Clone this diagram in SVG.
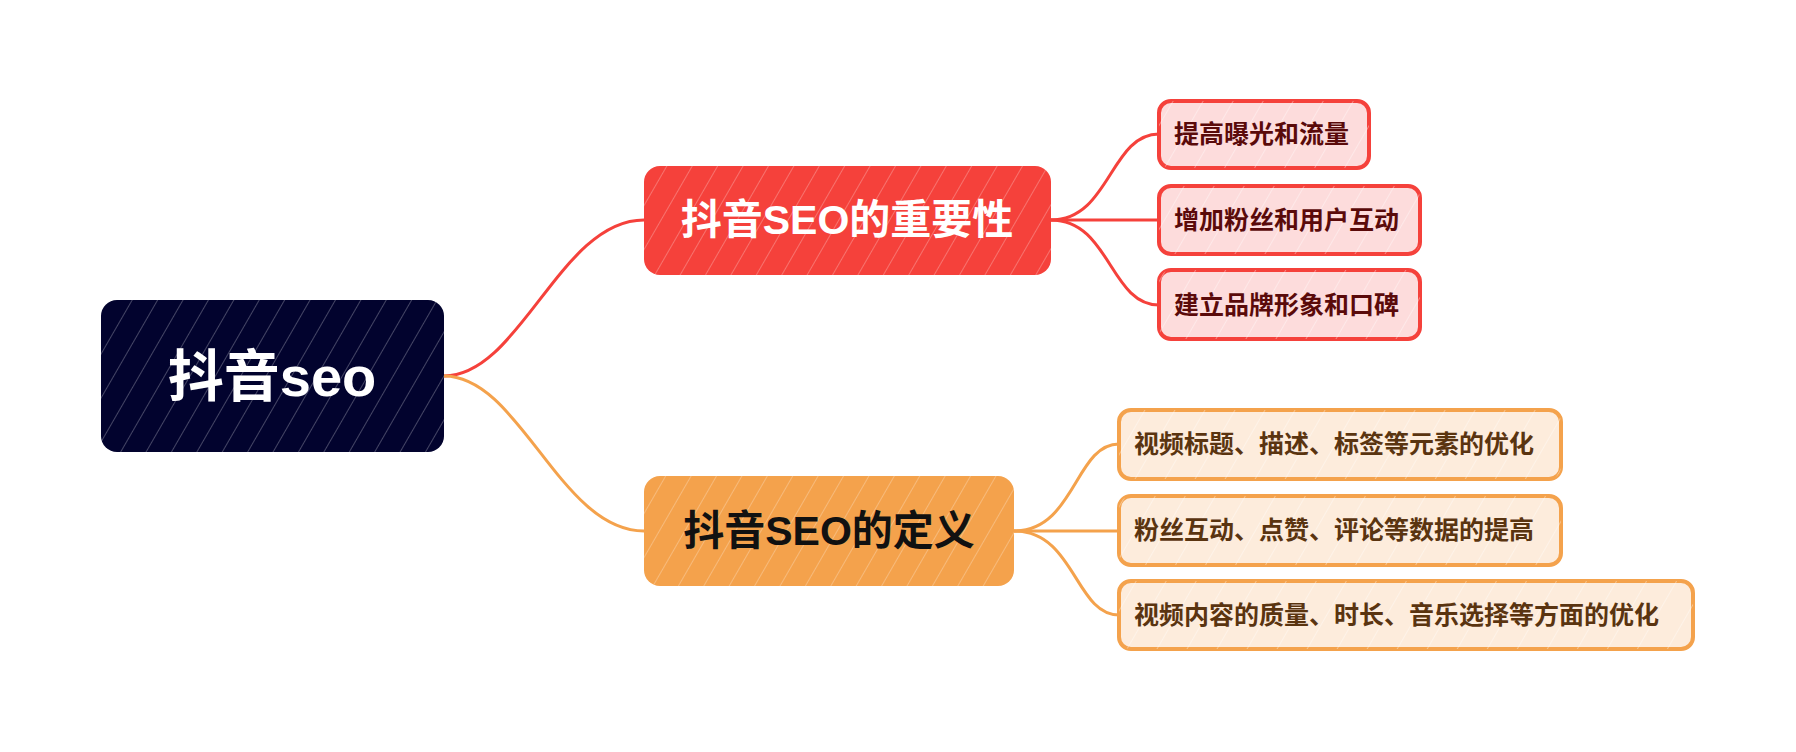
<svg xmlns="http://www.w3.org/2000/svg" width="1796" height="752" viewBox="0 0 1796 752">
<defs>
<pattern id="hw" width="22" height="22" patternUnits="userSpaceOnUse" patternTransform="rotate(30)"><line x1="0" y1="0" x2="0" y2="22" stroke="#ffffff" stroke-opacity="0.35" stroke-width="1.5"/></pattern>
<pattern id="hl" width="26" height="26" patternUnits="userSpaceOnUse" patternTransform="rotate(30)"><line x1="0" y1="0" x2="0" y2="26" stroke="#ffffff" stroke-opacity="0.6" stroke-width="1.2"/></pattern>
</defs>
<style>
text{font-family:"Liberation Sans","Noto Sans CJK SC",sans-serif;font-weight:bold;dominant-baseline:central}
.c{fill:none;stroke-width:3;stroke-linecap:round}
.leafr{fill:#fddcdc;stroke:#f5413b;stroke-width:4}
.leafo{fill:#fdecdc;stroke:#f4a24c;stroke-width:4}
.tr{fill:#5a0a0a;font-size:25px}
.to{fill:#5a3410;font-size:25px}
</style>
<rect width="1796" height="752" fill="#ffffff"/>
<g id="connectors">
<path class="c" stroke="#f5413b" d="M444 376 C520 376 560 220 644 220"/>
<path class="c" stroke="#f4a24c" d="M444 376 C520 376 560 531 644 531"/>
<path class="c" stroke="#f5413b" d="M1051 220 C1110 220 1110 134 1159 134"/>
<path class="c" stroke="#f5413b" d="M1051 220 L1159 220"/>
<path class="c" stroke="#f5413b" d="M1051 220 C1110 220 1110 305 1159 305"/>
<path class="c" stroke="#f4a24c" d="M1014 531 C1075 531 1075 444 1119 444"/>
<path class="c" stroke="#f4a24c" d="M1014 531 L1119 531"/>
<path class="c" stroke="#f4a24c" d="M1014 531 C1075 531 1075 615 1119 615"/>
</g>
<g id="root">
<rect x="101" y="300" width="343" height="152" rx="16" fill="#02032e"/>
<rect x="101" y="300" width="343" height="152" rx="16" fill="url(#hw)"/>
<text x="272" y="376" text-anchor="middle" fill="#ffffff" font-size="56">抖音seo</text>
</g>
<g id="n1">
<rect x="644" y="166" width="407" height="109" rx="16" fill="#f5413b"/>
<rect x="644" y="166" width="407" height="109" rx="16" fill="url(#hw)"/>
<text x="847" y="220" text-anchor="middle" fill="#ffffff" font-size="41">抖音SEO的重要性</text>
</g>
<g id="n2">
<rect x="644" y="476" width="370" height="110" rx="16" fill="#f4a24c"/>
<rect x="644" y="476" width="370" height="110" rx="16" fill="url(#hw)"/>
<text x="829" y="531" text-anchor="middle" fill="#111111" font-size="41">抖音SEO的定义</text>
</g>
<g id="l1"><rect class="leafr" x="1159" y="101" width="210" height="67" rx="12"/><rect x="1159" y="101" width="210" height="67" rx="12" fill="url(#hl)"/><text class="tr" x="1174" y="134">提高曝光和流量</text></g>
<g id="l2"><rect class="leafr" x="1159" y="186" width="261" height="68" rx="12"/><rect x="1159" y="186" width="261" height="68" rx="12" fill="url(#hl)"/><text class="tr" x="1174" y="220">增加粉丝和用户互动</text></g>
<g id="l3"><rect class="leafr" x="1159" y="270" width="261" height="69" rx="12"/><rect x="1159" y="270" width="261" height="69" rx="12" fill="url(#hl)"/><text class="tr" x="1174" y="305">建立品牌形象和口碑</text></g>
<g id="l4"><rect class="leafo" x="1119" y="410" width="442" height="69" rx="12"/><rect x="1119" y="410" width="442" height="69" rx="12" fill="url(#hl)"/><text class="to" x="1134" y="444">视频标题、描述、标签等元素的优化</text></g>
<g id="l5"><rect class="leafo" x="1119" y="496" width="442" height="69" rx="12"/><rect x="1119" y="496" width="442" height="69" rx="12" fill="url(#hl)"/><text class="to" x="1134" y="530">粉丝互动、点赞、评论等数据的提高</text></g>
<g id="l6"><rect class="leafo" x="1119" y="581" width="574" height="68" rx="12"/><rect x="1119" y="581" width="574" height="68" rx="12" fill="url(#hl)"/><text class="to" x="1134" y="615">视频内容的质量、时长、音乐选择等方面的优化</text></g>
</svg>
